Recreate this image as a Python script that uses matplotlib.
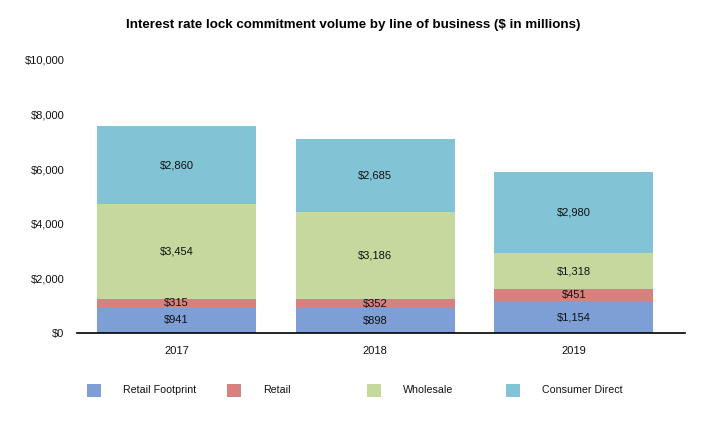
import matplotlib
matplotlib.use("Agg")
import matplotlib.pyplot as plt
from matplotlib.patches import Rectangle
import numpy as np

plt.rcParams['font.family'] = ['Liberation Sans', 'DejaVu Sans']

years = ["2017", "2018", "2019"]
series_names = ["Retail Footprint", "Retail", "Wholesale", "Consumer Direct"]
retail_footprint = [941, 898, 1154]
retail = [315, 352, 451]
wholesale = [3454, 3186, 1318]
consumer_direct = [2860, 2685, 2980]
colors = ["#7E9ED6", "#D68080", "#C5D89E", "#82C4D6"]

fig = plt.figure(figsize=(7.06, 4.26), dpi=100)
ax = fig.add_axes([77/706, 1-333/426, (685-77)/706, (333-60)/426])

x = np.arange(len(years))
bottom = np.zeros(len(years))
for vals, col in zip([retail_footprint, retail, wholesale, consumer_direct], colors):
    v = np.array(vals, dtype=float)
    ax.bar(x, v, bottom=bottom, width=0.8, color=col, edgecolor='none')
    for xi, b, h in zip(x, bottom, v):
        ax.text(xi, b + h/2, f"${int(h):,}", ha='center', va='center', fontsize=8, color='#111111')
    bottom += v

ax.set_xlim(-0.5, 2.56)
ax.set_ylim(0, 10000)
ax.set_yticks(range(0, 10001, 2000))
ax.set_yticklabels([f"${t:,}" for t in range(0, 10001, 2000)])
ax.set_xticks(x)
ax.set_xticklabels(years)
ax.tick_params(axis='both', length=0, labelsize=8, colors='#111111')
ax.tick_params(axis='y', pad=9)
ax.tick_params(axis='x', pad=9)
for s in ['top', 'right', 'left']:
    ax.spines[s].set_visible(False)
ax.spines['bottom'].set_color('black')
ax.spines['bottom'].set_linewidth(1.2)

fig.text(0.5, 1-25/426, "Interest rate lock commitment volume by line of business ($ in millions)",
         ha='center', va='center', fontsize=9.6, fontweight='bold')

marker_x = [87, 227, 367, 506]
for mx, name, col in zip(marker_x, series_names, colors):
    fig.patches.append(Rectangle((mx/706, 1-397/426), 14/706, 13/426, transform=fig.transFigure,
                                 facecolor=col, edgecolor='none'))
    fig.text((mx+36)/706, 1-390/426, name, ha='left', va='center', fontsize=7.7, color='#111111')

fig.savefig("out.png", dpi=100)
